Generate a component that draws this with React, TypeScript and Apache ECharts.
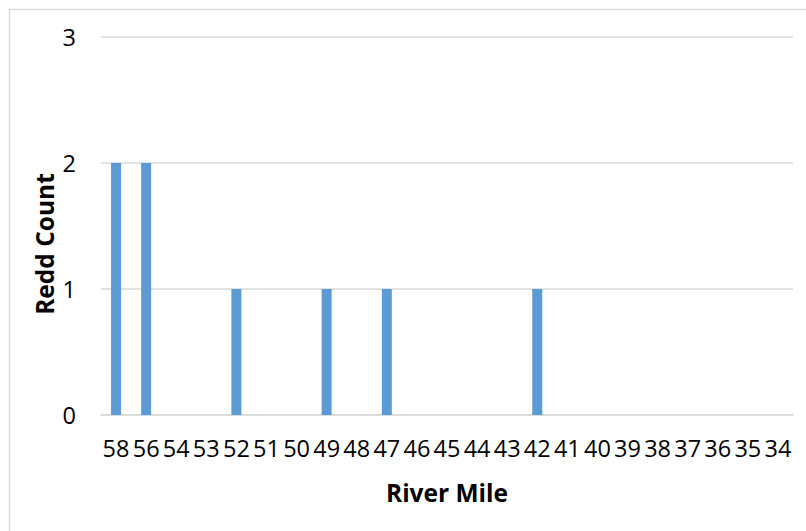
import React, { useEffect, useRef } from "react";
import * as echarts from "echarts";

const categories = ["58","56","54","53","52","51","50","49","48","47","46","45","44","43","42","41","40","39","38","37","36","35","34"];
const reddCounts = [2,2,0,0,1,0,0,1,0,1,0,0,0,0,1,0,0,0,0,0,0,0,0];
const yTicks = [0, 1, 2, 3];

const FONT = "'Open Sans', sans-serif";

export default function App() {
  const ref = useRef<HTMLDivElement>(null);
  useEffect(() => {
    if (!ref.current) return;
    const chart = echarts.init(ref.current, undefined, { renderer: "svg" });
    chart.setOption({
      animation: false,
      backgroundColor: "#ffffff",
      grid: { left: 101, right: 13, top: 37, bottom: 116, containLabel: false },
      xAxis: {
        type: "category",
        data: categories,
        axisLine: { lineStyle: { color: "#d9d9d9", width: 1.5 } },
        axisTick: { show: false },
        axisLabel: { color: "#000", fontSize: 23.5, fontFamily: FONT, margin: 21, interval: 0 },
      },
      yAxis: {
        type: "value",
        min: yTicks[0],
        max: yTicks[yTicks.length - 1],
        interval: 1,
        axisLine: { show: false },
        axisTick: { show: false },
        splitLine: { lineStyle: { color: "#d9d9d9", width: 1.5 } },
        axisLabel: { color: "#000", fontSize: 23.5, fontFamily: FONT, margin: 25 },
      },
      series: [
        {
          type: "bar",
          data: reddCounts,
          barWidth: 10,
          itemStyle: { color: "#5b9bd5" },
        },
      ],
      graphic: [
        {
          type: "rect",
          shape: { x: 9.5, y: 9.5, width: 900, height: 900 },
          style: { fill: "none", stroke: "#d9d9d9", lineWidth: 1.5 },
          silent: true,
        },
        {
          type: "text",
          x: 44,
          y: 244,
          rotation: Math.PI / 2,
          style: {
            text: "Redd Count",
            font: `bold 24.5px ${FONT}`,
            fill: "#000",
            align: "center",
            verticalAlign: "middle",
          },
        },
        {
          type: "text",
          x: 447,
          y: 492,
          style: {
            text: "River Mile",
            font: `bold 24.5px ${FONT}`,
            fill: "#000",
            align: "center",
            verticalAlign: "middle",
          },
        },
      ],
    });
    return () => chart.dispose();
  }, []);
  return <div ref={ref} style={{ width: 806, height: 531, position: "absolute", left: 0, top: 0 }} />;
}
